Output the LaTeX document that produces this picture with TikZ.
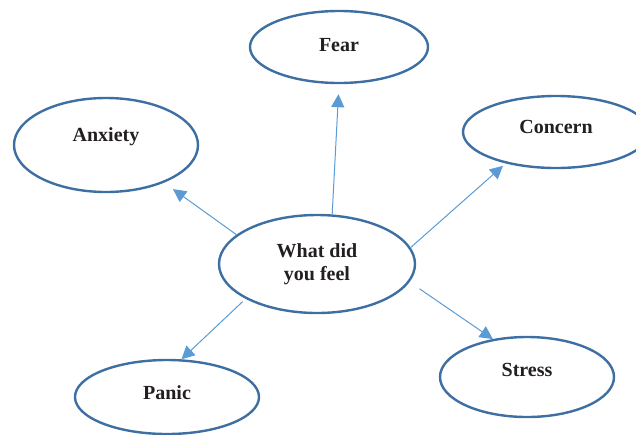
\documentclass[tikz,border=0pt]{standalone}
\usepackage{fontspec}
\setmainfont{Liberation Serif}
\usetikzlibrary{shapes.geometric,arrows.meta}
\definecolor{rimblue}{RGB}{61,111,163}
\definecolor{linkblue}{RGB}{91,155,213}
\definecolor{inkgray}{RGB}{35,31,32}

\begin{document}
\begin{tikzpicture}[x=0.5pt, y=-0.5pt,
        feeling/.style={ellipse, draw=rimblue, line width=1.2pt, text=inkgray,
            font=\bfseries\fontsize{10}{11.5}\selectfont, align=center, inner sep=0pt},
        lift/.style={text height=7pt, text depth=#1},
        link/.style={draw=linkblue, line width=0.5pt, -{Triangle[length=6.5pt, width=6.5pt]}}]
        \useasboundingbox (0, 0) rectangle (636, 434);

        \node (feel) at (317, 264) [feeling, minimum width=98pt, minimum height=49pt] {What did\\you feel};

        \node (fear) at (339, 47) [feeling, lift=2.4pt, minimum width=89pt, minimum height=36pt] {Fear};
        \node (anxiety) at (106, 145) [feeling, lift=10.4pt, minimum width=92pt, minimum height=47pt] {Anxiety};
        \node (concern) at (556, 132) [feeling, lift=5.4pt, minimum width=93pt, minimum height=36pt] {Concern};
        \node (panic) at (167, 397) [feeling, lift=4.4pt, minimum width=92pt, minimum height=37pt] {Panic};
        \node (stress) at (527, 377) [feeling, lift=7.4pt, minimum width=87pt, minimum height=40pt] {Stress};

        \draw [link, shorten >=5pt] (feel.73) -- (fear.-90);
        \draw [link, shorten >=5.5pt] (feel.160) -- (anxiety.-33);
        \draw [link, shorten >=1.8pt] (feel.10) -- (concern.212);
        \draw [link, shorten <=2pt] (feel.206) -- (panic.69);
        \draw [link, shorten <=6pt] (feel.-11) -- (stress.132);
    \end{tikzpicture}
\end{document}
